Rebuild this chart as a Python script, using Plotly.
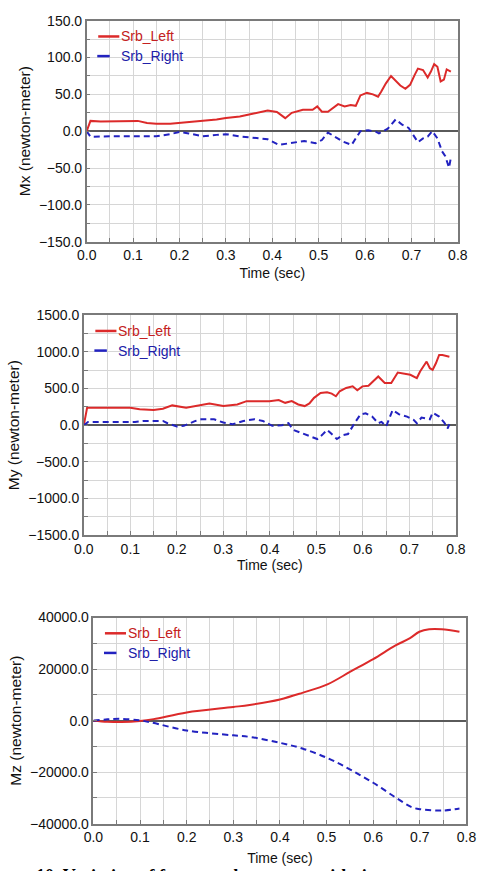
import plotly.graph_objects as go

# ---- Mx (newton-meter) ----
mx_left_t = [0, 0.008, 0.03, 0.06, 0.09, 0.11, 0.13, 0.15, 0.18, 0.2, 0.22, 0.25, 0.28, 0.30, 0.33,
             0.36, 0.39, 0.41, 0.428, 0.442, 0.466, 0.487, 0.497, 0.507, 0.52, 0.542, 0.556, 0.569,
             0.58, 0.59, 0.604, 0.617, 0.628, 0.635, 0.645, 0.656, 0.666, 0.676, 0.687, 0.697, 0.707,
             0.714, 0.725, 0.735, 0.742, 0.749, 0.756, 0.763, 0.77, 0.776, 0.785]
mx_left = [0, 14, 13, 13, 13, 14, 11, 10, 10, 11, 13, 14, 16, 18, 20,
           24, 28, 26, 17.7, 25, 29, 29, 33.6, 26.5, 26.5, 36.7, 33.6, 35.4,
           34.5, 48.6, 52, 50, 46.8, 54, 65, 75, 69, 62, 57.5, 63, 76.5,
           85, 83, 73, 81, 91, 87.5, 67.6, 70, 84, 81]
mx_right_t = [0, 0.008, 0.05, 0.1, 0.15, 0.18, 0.2, 0.22, 0.25, 0.28, 0.30, 0.33, 0.36, 0.39, 0.414,
              0.442, 0.469, 0.493, 0.507, 0.52, 0.535, 0.552, 0.571, 0.59, 0.607, 0.624, 0.63, 0.649,
              0.666, 0.68, 0.694, 0.704, 0.714, 0.725, 0.735, 0.745, 0.756, 0.766, 0.773, 0.781, 0.785]
mx_right = [0, -7.5, -7, -7, -7, -4, -1, -3, -7, -5, -4, -7, -9, -11, -18.6,
            -16.4, -13.3, -16.4, -12, -1.8, -7.5, -14, -18.6, 0, 1.3, -0.9, -3, 3.5,
            16, 8.8, 4.4, -5.3, -15, -9.7, -7.5, 0, -9.7, -27.4, -34, -49.5, -36]

# ---- My (newton-meter) ----
my_left_t = [0, 0.007, 0.05, 0.1, 0.12, 0.15, 0.17, 0.19, 0.22, 0.25, 0.27, 0.30, 0.33, 0.35, 0.378,
             0.399, 0.419, 0.433, 0.447, 0.461, 0.475, 0.485, 0.495, 0.509, 0.523, 0.533, 0.542, 0.55,
             0.564, 0.578, 0.588, 0.599, 0.612, 0.623, 0.633, 0.647, 0.661, 0.675, 0.689, 0.702, 0.716,
             0.723, 0.737, 0.744, 0.75, 0.757, 0.764, 0.771, 0.786]
my_left = [0, 237, 237, 237, 216, 208, 225, 270, 237, 270, 297, 261, 283, 328, 328,
           328, 342, 305, 328, 283, 261, 297, 373, 440, 449, 431, 395, 463,
           508, 530, 477, 530, 539, 598, 665, 575, 575, 719, 701, 688, 643,
           733, 868, 778, 755, 845, 958, 958, 935]
my_right_t = [0, 0.009, 0.05, 0.11, 0.13, 0.17, 0.18, 0.2, 0.215, 0.24, 0.253, 0.28, 0.30, 0.32, 0.343,
              0.367, 0.385, 0.405, 0.426, 0.44, 0.45, 0.47, 0.488, 0.502, 0.512, 0.523, 0.533, 0.544,
              0.557, 0.568, 0.582, 0.595, 0.606, 0.62, 0.633, 0.64, 0.65, 0.664, 0.678, 0.695, 0.709,
              0.716, 0.726, 0.744, 0.75, 0.764, 0.775, 0.782, 0.786]
my_right = [0, 45, 45, 45, 58, 58, 27, -18, -9, 58, 81, 81, 36, 13, 58,
            81, 58, -9, 0, 27, -63, -108, -153, -189, -135, -63, -121, -189,
            -135, -121, 27, 148, 162, 117, 27, 45, -18, 207, 148, 117, 72,
            27, 103, 81, 171, 117, 36, -45, 13]

# ---- Mz (newton-meter) ----
mz_left_t = [0, 0.03, 0.06, 0.1, 0.129, 0.2, 0.3, 0.335, 0.4, 0.448, 0.503, 0.551, 0.6, 0.648,
             0.679, 0.699, 0.72, 0.747, 0.785]
mz_left = [0, -400, -500, -100, 600, 3200, 5300, 6100, 8250, 10800, 14200, 19000, 23900, 29200,
           32000, 34500, 35500, 35500, 34500]
mz_right_t = [0, 0.03, 0.06, 0.1, 0.122, 0.2, 0.3, 0.335, 0.4, 0.448, 0.503, 0.551, 0.6, 0.648,
              0.683, 0.702, 0.747, 0.785]
mz_right = [0, 500, 700, 100, -600, -3800, -5700, -6300, -8600, -10800, -14600, -19000, -24100,
            -29800, -33600, -34400, -34900, -34100]

y_titles = ["Mx (newton-meter)", "My (newton-meter)", "Mz (newton-meter)"]
y_ranges = [[-150, 150], [-1500, 1500], [-40000, 40000]]
y_dticks = [50, 500, 20000]
x_title = "Time (sec)"
series_names = ["Srb_Left", "Srb_Right"]
caption = "10. Variation of forces and moments with time"

W, H = 487, 871
RED = "#dc2a2a"
BLUE = "#2222c0"
RED_TXT = "#c42020"
BLUE_TXT = "#2020a8"
GRID = "#d6d6d6"
FRAME = "#7a7a7a"
FONT = "Liberation Sans, Arial, sans-serif"

# plot-area boxes in pixels: (left, right, top, bottom)
boxes = [(80, 467, 13, 238), (77, 465, 313, 537), (87, 476, 621, 831)]
x_title_standoff = [6, 5, 9]


def px(x):
    return x / W


def py(y):
    return 1 - y / H


fig = go.Figure()
datasets = [
    (mx_left_t, mx_left, mx_right_t, mx_right, "linear"),
    (my_left_t, my_left, my_right_t, my_right, "linear"),
    (mz_left_t, mz_left, mz_right_t, mz_right, "spline"),
]

for i, (lt, lv, rt, rv, shape) in enumerate(datasets):
    n = i + 1
    xa = "x" if n == 1 else f"x{n}"
    ya = "y" if n == 1 else f"y{n}"
    fig.add_trace(go.Scatter(
        x=lt, y=lv, mode="lines", xaxis=xa, yaxis=ya, name=series_names[0],
        line=dict(color=RED, width=2, shape=shape), hoverinfo="skip", showlegend=False))
    fig.add_trace(go.Scatter(
        x=rt, y=rv, mode="lines", xaxis=xa, yaxis=ya, name=series_names[1],
        line=dict(color=BLUE, width=2, dash="6px,4px", shape=shape), hoverinfo="skip",
        showlegend=False))

layout = dict(
    width=W, height=H, autosize=False,
    margin=dict(l=0, r=0, t=0, b=0),
    paper_bgcolor="white", plot_bgcolor="white",
    font=dict(family=FONT, size=14, color="#111"),
    showlegend=False,
)

shapes = []
annotations = []

for i, (l, r, t, b) in enumerate(boxes):
    n = i + 1
    xk = "xaxis" if n == 1 else f"xaxis{n}"
    yk = "yaxis" if n == 1 else f"yaxis{n}"
    anchor_x = "y" if n == 1 else f"y{n}"
    anchor_y = "x" if n == 1 else f"x{n}"
    layout[xk] = dict(
        domain=[px(l), px(r)], anchor=anchor_x, range=[0, 0.8],
        dtick=0.1, tick0=0, tickformat=".1f",
        showgrid=True, gridcolor=GRID, gridwidth=1,
        showline=True, linecolor=FRAME, linewidth=1.5, mirror=True,
        ticks="inside", ticklen=4, tickcolor=FRAME,
        minor=dict(dtick=0.05, showgrid=True, gridcolor=GRID, ticks="inside",
                   ticklen=4, tickcolor=FRAME),
        zeroline=False,
        tickfont=dict(size=14, color="#111"),
        title=dict(text=x_title, font=dict(size=14, color="#111"),
                   standoff=x_title_standoff[i]),
        fixedrange=True,
    )
    d = y_dticks[i]
    layout[yk] = dict(
        domain=[py(b), py(t)], anchor=anchor_y, range=y_ranges[i],
        dtick=d, tick0=0, tickformat=".1f",
        showgrid=True, gridcolor=GRID, gridwidth=1,
        showline=True, linecolor=FRAME, linewidth=1.5, mirror=True,
        ticks="inside", ticklen=4, tickcolor=FRAME,
        minor=dict(dtick=d / 2, showgrid=True, gridcolor=GRID, ticks="inside",
                   ticklen=4, tickcolor=FRAME),
        zeroline=True, zerolinecolor="#5a5a5a", zerolinewidth=2,
        tickfont=dict(size=14, color="#111"),
        title=dict(text=y_titles[i], font=dict(size=15.5, color="#111"), standoff=5),
        fixedrange=True,
    )

    # in-plot legend: white box, line samples and coloured labels
    row1, row2 = t + 16, t + 36
    shapes.append(dict(type="rect", xref="paper", yref="paper", layer="below",
                       x0=px(l + 4), x1=px(l + 98), y0=py(t + 4), y1=py(t + 47),
                       fillcolor="white", line=dict(width=0)))
    shapes.append(dict(type="line", xref="paper", yref="paper",
                       x0=px(l + 12), x1=px(l + 34), y0=py(row1), y1=py(row1),
                       line=dict(color=RED, width=2.5)))
    shapes.append(dict(type="line", xref="paper", yref="paper",
                       x0=px(l + 11), x1=px(l + 24), y0=py(row2), y1=py(row2),
                       line=dict(color=BLUE, width=2.5)))
    annotations.append(dict(text=series_names[0], xref="paper", yref="paper",
                            x=px(l + 34), y=py(row1), xanchor="left", yanchor="middle",
                            showarrow=False, font=dict(size=14, color=RED_TXT)))
    annotations.append(dict(text=series_names[1], xref="paper", yref="paper",
                            x=px(l + 34), y=py(row2), xanchor="left", yanchor="middle",
                            showarrow=False, font=dict(size=14, color=BLUE_TXT)))

# figure caption running off the bottom edge
annotations.append(dict(
    text=f"<b>{caption}</b>", xref="paper", yref="paper",
    x=px(25), y=py(872.5), xanchor="left", yanchor="top", showarrow=False,
    font=dict(family="Liberation Serif, Times New Roman, serif", size=18, color="#000"),
))

layout["shapes"] = shapes
layout["annotations"] = annotations

fig.update_layout(**layout)
fig.write_html("out.html")
